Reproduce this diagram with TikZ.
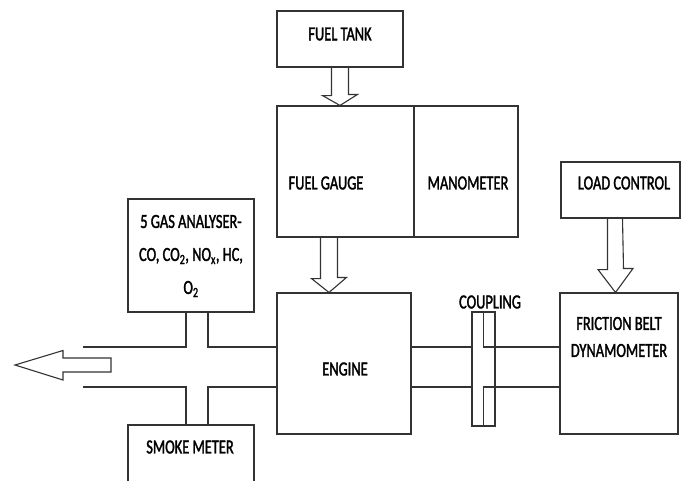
\documentclass[tikz,border=0pt]{standalone}
\usepackage{fontspec}
\setmainfont[FakeStretch=0.72,FakeBold=1.6]{Carlito}
\usetikzlibrary{calc}
\begin{document}
\begin{tikzpicture}[x=1pt,y=-1pt,
  ln/.style={line width=1.1pt, draw=black!80},
  box/.style={ln, rectangle, inner sep=0pt},
  lbl/.style={inner sep=0pt, font=\fontsize{20}{24}\selectfont, align=center, text=black}]
\useasboundingbox (0,0) rectangle (683,480);
\fill[white] (0,0) rectangle (683,480);

% boxes
\node[box, minimum width=126pt, minimum height=56pt]  (tank) at (340,39) {};
\node[box, minimum width=137pt, minimum height=131pt] (gauge) at (345.5,171.5) {};
\node[box, minimum width=104pt, minimum height=131pt] (mano) at (466,171.5) {};
\node[box, minimum width=119pt, minimum height=56pt]  (load) at (620.5,190) {};
\node[box, minimum width=126pt, minimum height=113pt] (ana) at (191,255.5) {};
\node[box, minimum width=134pt, minimum height=141pt] (eng) at (344,363.5) {};
\node[box, minimum width=118pt, minimum height=141pt] (dyn) at (619,363.5) {};
\node[box, minimum width=126pt, minimum height=64pt]  (smoke) at (191,457) {};
\node[box, minimum width=23pt, minimum height=114pt]  (coup) at (483.5,369) {};

% labels
\node[lbl] (tanktxt) at (340,34) {FUEL TANK};
\node[lbl] (gaugetxt) at (326,183) {FUEL GAUGE};
\node[lbl] (manotxt) at (468,183) {MANOMETER};
\node[lbl] (loadtxt) at (624,183) {LOAD CONTROL};
\node[lbl, font=\fontsize{20}{33}\selectfont] (anatxt) at (191,256) {5 GAS ANALYSER-\\CO, CO\textsubscript{2}, NO\textsubscript{x}, HC,\\O\textsubscript{2}};
\node[lbl] (engtxt) at (345,369) {ENGINE};
\node[lbl, font=\fontsize{20}{27}\selectfont] (dyntxt) at (619,337) {FRICTION BELT\\DYNAMOMETER};
\node[lbl] (smoketxt) at (190,447) {SMOKE METER};
\node[lbl] (couptxt) at (490,302) {COUPLING};

% exhaust pipe
\coordinate (exU) at (83,347);
\coordinate (exL) at (83,387);
\draw[ln] (exU) -| ([xshift=-5pt]ana.south);
\draw[ln] ([xshift=17pt]ana.south) |- (eng.west |- exU);
\draw[ln] (exL) -| ([xshift=-5pt]smoke.north);
\draw[ln] ([xshift=17pt]smoke.north) |- (eng.west |- exL);

% exhaust arrow
\coordinate (extail) at (111,365);
\draw[ln, line join=miter] (extail) -- ++(0,-7) -- ++(-48,0) -- ++(0,-7.5)
  -- (15,365) -- (63,380) -- ++(0,-8) -- ++(48,0) -- cycle;

% shafts and coupling
\draw[ln] (eng.east |- exU) -- (coup.west |- exU);
\draw[ln] (eng.east |- exL) -- (coup.west |- exL);
\draw[ln] (coup.north) -- (coup.north |- exU) -- (dyn.west |- exU);
\draw[ln] (coup.south) -- (coup.south |- exL) -- (dyn.west |- exL);

% hollow down arrows
\draw[ln] ([xshift=-8.5pt]tank.south) -- ++(0,28) -- ++(-9,0)
  -- (tank.south |- gauge.north) -- ++(17.5,-11) -- ++(-9,0) -- ([xshift=8.5pt]tank.south);
\draw[ln] ($(gauge.south)+(-25,0)$) -- ++(0,41) -- ++(-9,0)
  -- ($(eng.north)+(-15,0)$) -- ++(17.5,-15) -- ++(-9,0) -- ($(gauge.south)+(-8,0)$);
\draw[ln] ($(load.south)+(-13,0)$) -- ++(0,51) -- ++(-9.5,0)
  -- ($(dyn.north)+(-3.5,0)$) -- ++(17.5,-24) -- ++(-9.5,0) -- ($(load.south)+(2,0)$);
\end{tikzpicture}
\end{document}
